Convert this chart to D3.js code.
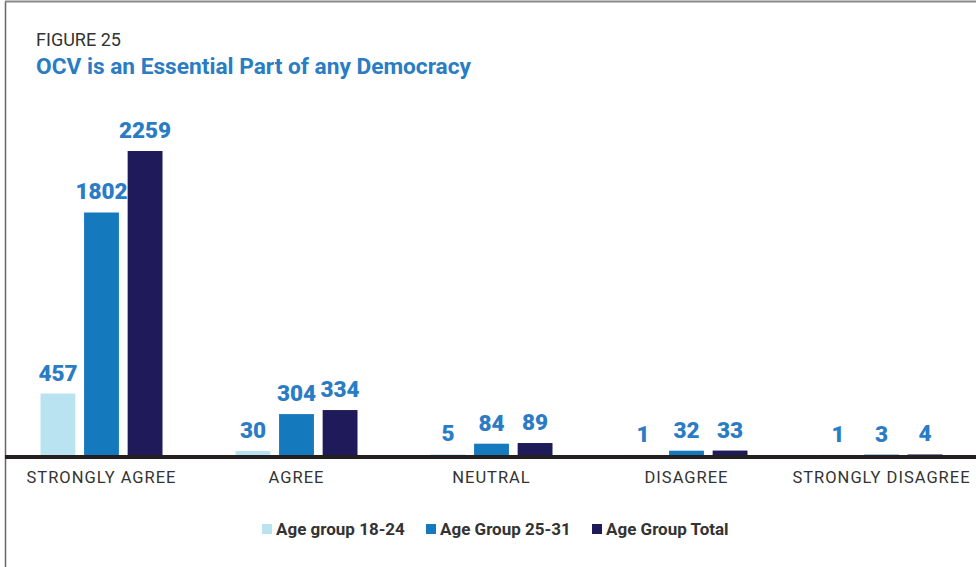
<!DOCTYPE html>
<html>
<head>
<meta charset="utf-8">
<script src="https://cdn.jsdelivr.net/npm/d3@7"></script>
<style>
  html, body { margin: 0; padding: 0; background: #fff; }
  svg { display: block; }
</style>
</head>
<body>
<svg id="chart" width="976" height="567"></svg>
<script>
// Responses by agreement level
const categories = ["STRONGLY AGREE", "AGREE", "NEUTRAL", "DISAGREE", "STRONGLY DISAGREE"];
const seriesNames = ["Age group 18-24", "Age Group 25-31", "Age Group Total"];
const age1824 = [457, 30, 5, 1, 1];
const age2531 = [1802, 304, 84, 32, 3];
const ageTotal = [2259, 334, 89, 33, 4];
const seriesColors = ["#b9e3f1", "#1479bd", "#1f1b5b"];

const seriesValues = [age1824, age2531, ageTotal];

const svg = d3.select("#chart");
const W = 976, H = 567;
const baseY = 455;

// Frame lines
svg.append("line").attr("x1", 5.5).attr("x2", 5.5).attr("y1", 1).attr("y2", H)
  .attr("stroke", "#666").attr("stroke-width", 1.5);
svg.append("line").attr("x1", 5).attr("x2", W).attr("y1", 1.5).attr("y2", 1.5)
  .attr("stroke", "#888").attr("stroke-width", 2);

// Headings
svg.append("text").attr("x", 36).attr("y", 46)
  .attr("font-family", "Roboto, sans-serif").attr("font-size", 17.5)
  .attr("fill", "#333").attr("textLength", 85).attr("lengthAdjust", "spacingAndGlyphs")
  .text("FIGURE 25");
svg.append("text").attr("x", 36).attr("y", 74)
  .attr("font-family", "Roboto, sans-serif").attr("font-size", 22).attr("font-weight", 700)
  .attr("fill", "#2a7cc4").attr("textLength", 435).attr("lengthAdjust", "spacingAndGlyphs")
  .text("OCV is an Essential Part of any Democracy");

// Scales
const x = d3.scaleBand().domain(categories).range([4, 979]).padding(0);
const xs = d3.scaleBand().domain(d3.range(3)).range([-61, 61]).paddingInner(0.2).paddingOuter(0);
const y = d3.scaleLinear().domain([0, 2259]).range([baseY, 151]);

const groups = svg.selectAll("g.cat").data(categories).join("g")
  .attr("class", "cat")
  .attr("transform", d => `translate(${x(d) + x.bandwidth() / 2},0)`);

groups.each(function (cat, ci) {
  const g = d3.select(this);
  const rows = seriesValues.map((vals, si) => ({ si, v: vals[ci] }));
  g.selectAll("rect").data(rows).join("rect")
    .attr("x", d => xs(d.si))
    .attr("width", xs.bandwidth())
    .attr("y", d => y(d.v))
    .attr("height", d => Math.max(1.5, baseY - y(d.v)))
    .attr("fill", d => seriesColors[d.si]);
  g.selectAll("text.val").data(rows).join("text")
    .attr("class", "val")
    .attr("x", d => xs(d.si) + xs.bandwidth() / 2)
    .attr("y", d => y(d.v) - 13)
    .attr("text-anchor", "middle")
    .attr("font-family", "Roboto, sans-serif").attr("font-size", 22.5).attr("font-weight", 900)
    .attr("fill", "#2a7cc4")
    .text(d => d.v);
});

// Baseline axis
const xAxis = d3.axisBottom(x).tickSize(0).tickPadding(14);
const axisG = svg.append("g").attr("transform", `translate(0,${baseY + 2})`).call(xAxis);
axisG.select(".domain").attr("d", `M5,0H${W}`).attr("stroke", "#231f20").attr("stroke-width", 4);
axisG.selectAll(".tick text")
  .attr("font-family", "Roboto, sans-serif").attr("font-size", 16.5)
  .attr("fill", "#333").attr("letter-spacing", "1px");

// Legend
const legendX = [262, 426, 592];
const legend = svg.append("g").selectAll("g").data(seriesNames).join("g")
  .attr("transform", (d, i) => `translate(${legendX[i]},529)`);
legend.append("rect").attr("x", 0).attr("y", -5).attr("width", 10).attr("height", 10)
  .attr("fill", (d, i) => seriesColors[i]);
legend.append("text").attr("x", 14).attr("y", 6)
  .attr("font-family", "Roboto, sans-serif").attr("font-size", 17).attr("font-weight", 700)
  .attr("fill", "#333").text(d => d);
</script>
</body>
</html>
